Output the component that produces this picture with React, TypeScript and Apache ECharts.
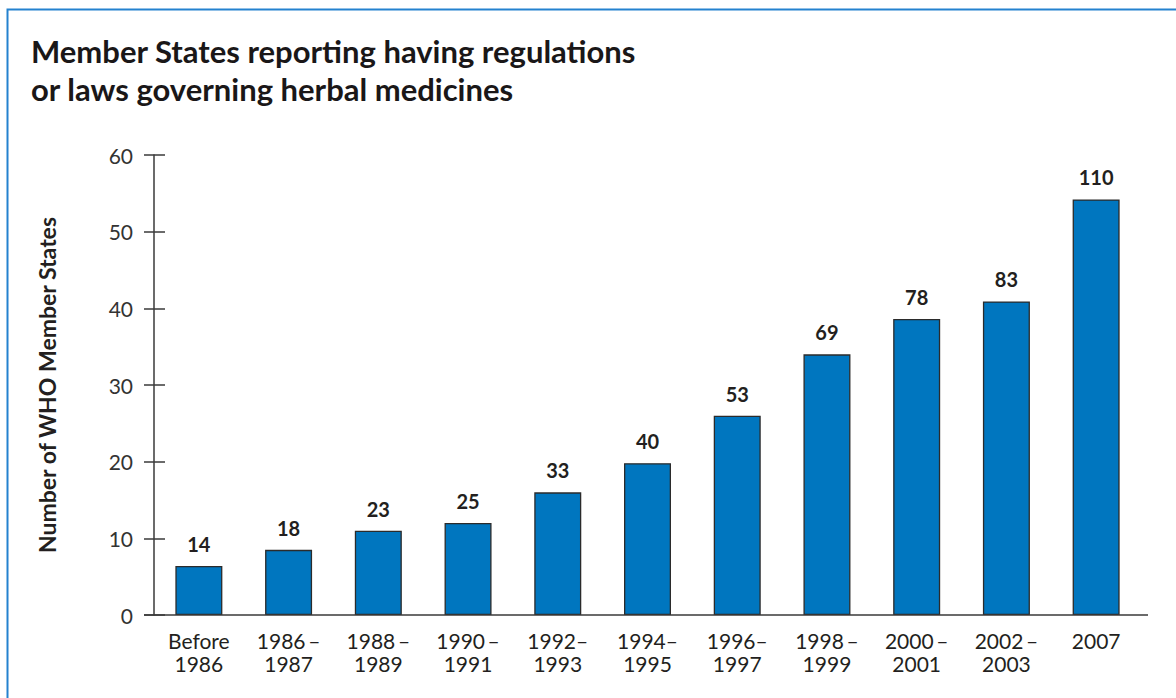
import React, { useEffect, useRef } from "react";
import * as echarts from "echarts";

const titleLines = [
  "Member States reporting having regulations",
  "or laws governing herbal medicines",
];
const yAxisName = "Number of WHO Member States";
const categories = [
  "Before\n1986",
  "1986\u2009\u2013\n1987",
  "1988\u2009\u2013\n1989",
  "1990\u2009\u2013\n1991",
  "1992\u2013\n1993",
  "1994\u2013\n1995",
  "1996\u2013\n1997",
  "1998\u2009\u2013\n1999",
  "2000\u2009\u2013\n2001",
  "2002\u2009\u2013\n2003",
  "2007",
];
const barValues = [6.4, 8.5, 11.0, 12.0, 16.0, 19.8, 26.0, 34.0, 38.6, 40.9, 54.2];
const valueLabels = ["14", "18", "23", "25", "33", "40", "53", "69", "78", "83", "110"];
const yMin = 0;
const yMax = 60;
const yInterval = 10;

const FONT = "Lato, 'Noto Sans', sans-serif";
const TEXT = "#231f20";
const AXIS = "#3a3a3a";

export default function App() {
  const ref = useRef<HTMLDivElement>(null);
  useEffect(() => {
    if (!ref.current) return;
    const chart = echarts.init(ref.current, undefined, { renderer: "svg" });
    const gridLeft = 154;
    const gridTop = 155;
    const gridBottomY = 615;
    const titleStyle = {
      fontFamily: FONT,
      fontSize: 31,
      fontWeight: "bold",
      color: "#1a1718",
      lineHeight: 31,
    };
    chart.setOption({
      animation: false,
      backgroundColor: "#ffffff",
      title: [
        { text: titleLines[0], left: 31, top: 35, padding: 0, textStyle: titleStyle },
        { text: titleLines[1], left: 31, top: 73, padding: 0, textStyle: titleStyle },
      ],
      grid: {
        left: gridLeft,
        top: gridTop,
        right: 1176 - 1141,
        bottom: 698 - gridBottomY,
        containLabel: false,
      },
      xAxis: {
        type: "category",
        data: categories,
        axisLine: { show: false },
        axisTick: { show: false },
        axisLabel: {
          interval: 0,
          margin: 14,
          fontFamily: FONT,
          fontSize: 21,
          lineHeight: 23,
          color: TEXT,
        },
      },
      yAxis: [
        {
          type: "value",
          min: yMin,
          max: yMax,
          interval: yInterval,
          position: "left",
          name: yAxisName,
          nameLocation: "middle",
          nameGap: 96,
          nameTextStyle: {
            fontFamily: FONT,
            fontSize: 23,
            fontWeight: "bold",
            color: TEXT,
          },
          axisLine: { show: true, lineStyle: { color: AXIS, width: 1.5 } },
          axisTick: { show: true, length: 10, lineStyle: { color: AXIS, width: 1.5 } },
          splitLine: { show: false },
          axisLabel: {
            margin: 21,
            fontFamily: FONT,
            fontSize: 21,
            color: "#333333",
          },
        },
        {
          type: "value",
          min: yMin,
          max: yMax,
          interval: yInterval,
          position: "left",
          axisLine: { show: false },
          axisTick: { show: true, inside: true, length: 11, lineStyle: { color: AXIS, width: 1.5 } },
          splitLine: { show: false },
          axisLabel: { show: false },
        },
      ],
      series: [
        {
          type: "bar",
          data: barValues,
          barWidth: 47,
          itemStyle: { color: "#0076bf", borderColor: "#2b2b2b", borderWidth: 1.3 },
          label: {
            show: true,
            position: "top",
            distance: 12,
            formatter: (p: any) => valueLabels[p.dataIndex],
            fontFamily: FONT,
            fontSize: 20,
            fontWeight: "bold",
            color: TEXT,
          },
        },
      ],
      graphic: [
        {
          type: "line",
          shape: { x1: 144, y1: gridBottomY, x2: 1148, y2: gridBottomY },
          style: { stroke: AXIS, lineWidth: 1.5 },
          z: 10,
        },
        {
          type: "polyline",
          shape: { points: [[7.5, 698], [7.5, 9.5], [1176, 9.5]] },
          style: { stroke: "#2482cf", lineWidth: 2, fill: "none" },
        },
      ],
    });
    return () => chart.dispose();
  }, []);
  return (
    <div
      ref={ref}
      style={{ position: "fixed", left: 0, top: 0, width: 1176, height: 698 }}
    />
  );
}
